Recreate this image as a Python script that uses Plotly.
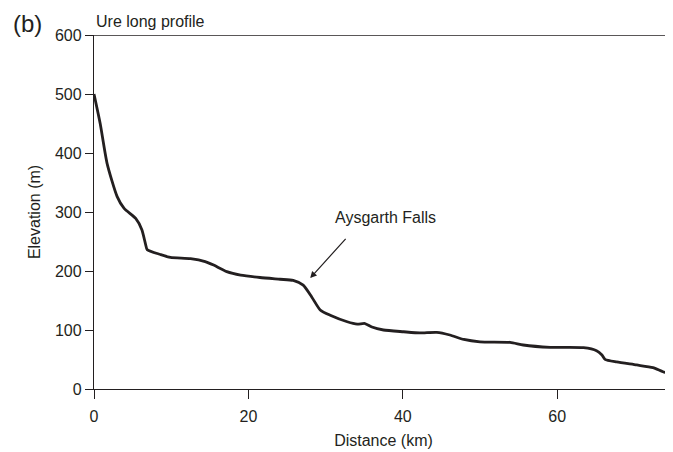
import plotly.graph_objects as go

distance_km = [0, 0.8, 1.7, 3.0, 3.9, 5.4, 6.2, 6.65, 6.9, 8.6, 9.9, 12.5, 14.4, 15.5,
               17.2, 19.0, 21.5, 24.1, 25.8, 27.1, 28.2, 29.3, 30.6, 32.8, 34.1, 35.1,
               36.0, 37.5, 40.1, 42.2, 44.4, 46.1, 47.9, 50.0, 53.9, 55.6, 59.1, 63.4,
               65.1, 65.8, 66.2, 67.7, 70.3, 72.4, 73.7, 74.8, 75.0]
elevation_m = [500, 450, 382, 326, 306, 289, 270, 247, 236, 228, 223, 221, 216, 210,
               199, 193, 189, 186, 184, 176, 156, 134, 125, 114, 110, 111,
               105, 100, 97, 95, 96, 91.5, 84, 80, 79, 74.6, 70.6, 70,
               65, 57.6, 50.3, 45.8, 40.7, 36.2, 29.3, 25.4, 25]

x_ticks = [0, 20, 40, 60]
y_ticks = [0, 100, 200, 300, 400, 500, 600]

FONT = "Liberation Sans, Arial, sans-serif"
INK = "#231f20"

# page body has an 8px margin, so the figure is sized to the visible area
W, H = 665, 444
L, T, B = 86, 27, 63

fig = go.Figure()
fig.add_trace(go.Scatter(
    x=distance_km,
    y=elevation_m,
    mode="lines",
    line=dict(color=INK, width=2.8, shape="spline", smoothing=0.6),
    hoverinfo="skip",
    showlegend=False
))

# arrow pointing at the falls
fig.add_annotation(
    x=28.0, y=188, ax=33.05, ay=261,
    xref="x", yref="y", axref="x", ayref="y",
    text=" ", showarrow=True,
    arrowhead=2, arrowsize=1.1, arrowwidth=1.2, arrowcolor=INK
)
fig.add_annotation(
    x=37.7, y=290, xref="x", yref="y",
    text="Aysgarth Falls", showarrow=False,
    font=dict(family=FONT, size=16, color=INK)
)

pw, ph = W - L, H - T - B
fig.add_annotation(
    x=(19 - L) / pw, y=(H - B) / ph, xref="paper", yref="paper",
    xanchor="center", yanchor="top",
    text="(b)", showarrow=False,
    font=dict(family=FONT, size=24, color=INK)
)
fig.add_annotation(
    x=0, y=(H - B - 14) / ph, xref="paper", yref="paper",
    xanchor="left", yanchor="middle",
    text="Ure long profile", showarrow=False,
    font=dict(family=FONT, size=16, color=INK)
)

# top border line
fig.add_shape(type="line", xref="paper", yref="y", x0=0, x1=1, y0=600, y1=600,
              line=dict(color=INK, width=1.3))

fig.update_layout(
    width=W,
    height=H,
    plot_bgcolor="white",
    paper_bgcolor="white",
    font=dict(family=FONT, size=16, color=INK),
    margin=dict(l=L, r=0, t=T, b=B, pad=0),
    dragmode=False,
    xaxis=dict(
        range=[0, 75],
        tickvals=x_ticks,
        ticks="outside", ticklen=9, tickwidth=1.2, tickcolor=INK,
        ticklabelstandoff=4,
        showline=True, linecolor=INK, linewidth=1.3,
        showgrid=False, zeroline=False,
        tickfont=dict(size=16),
        title=dict(text="Distance (km)", standoff=10, font=dict(size=16)),
    ),
    yaxis=dict(
        range=[0, 600],
        tickvals=y_ticks,
        ticks="outside", ticklen=8, tickwidth=1.2, tickcolor=INK,
        showline=True, linecolor=INK, linewidth=1.3,
        showgrid=False, zeroline=False,
        tickfont=dict(size=16),
        title=dict(text="Elevation (m)", standoff=10, font=dict(size=16)),
    ),
)

fig.write_html("out.html")
